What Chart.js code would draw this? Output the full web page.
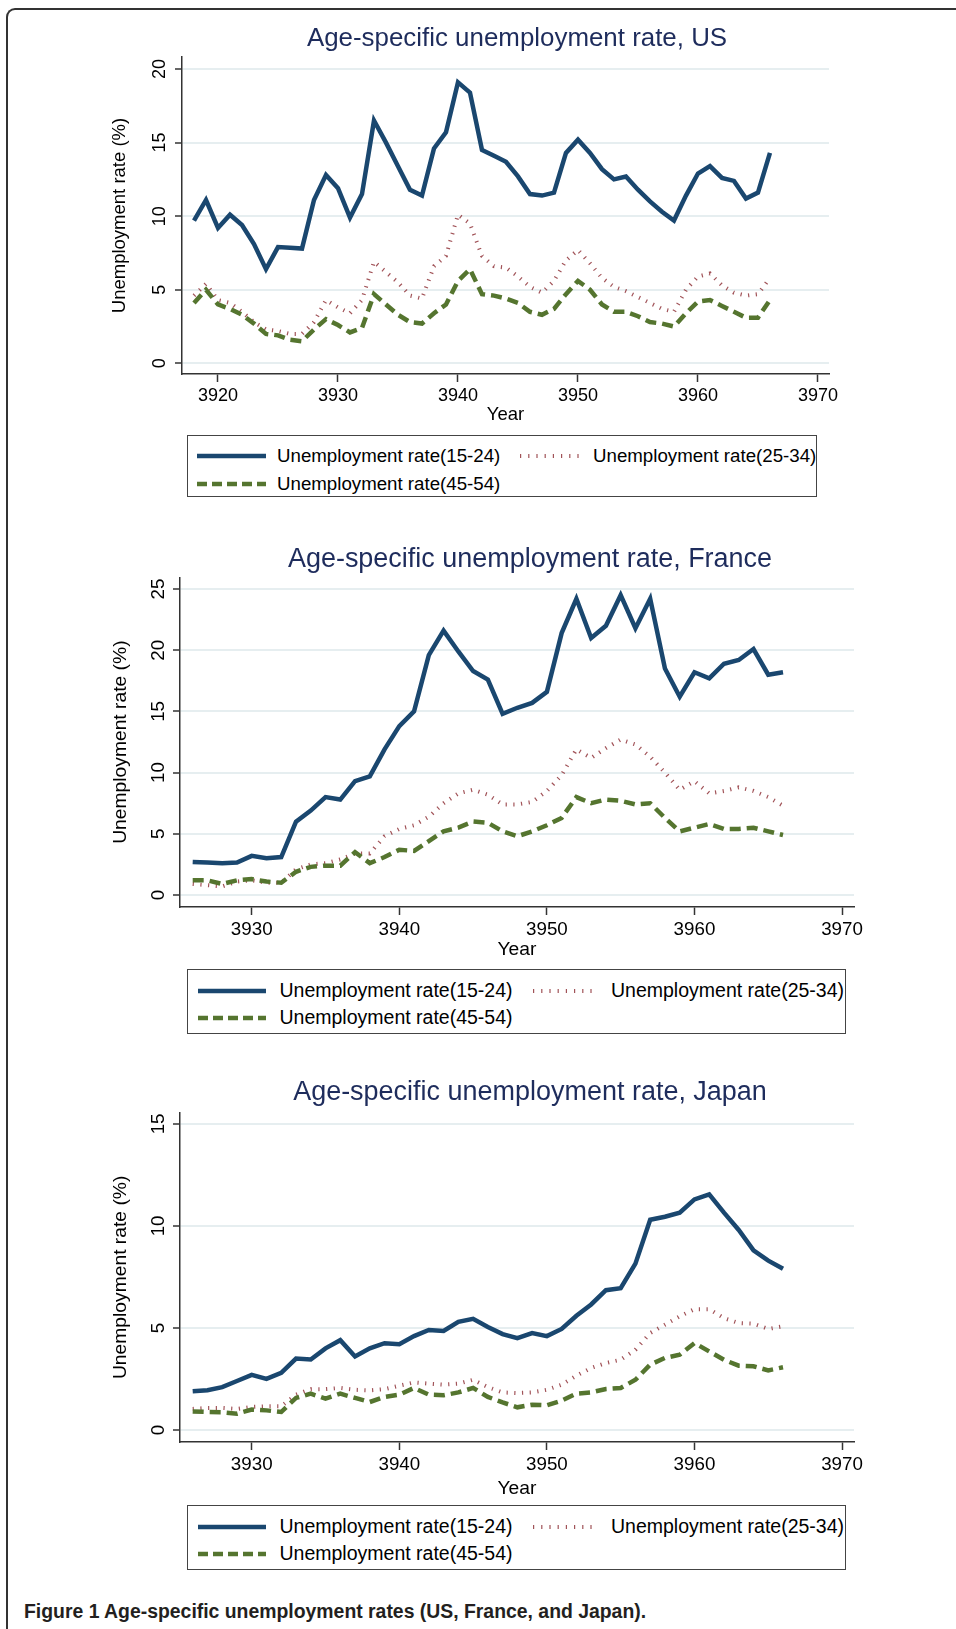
<!DOCTYPE html>
<html>
<head>
<meta charset="utf-8">
<script src="https://cdn.jsdelivr.net/npm/chart.js@4.4.1/dist/chart.umd.min.js"></script>
<style>
body { margin: 0; background: #fff; width: 956px; height: 1629px; overflow: hidden; position: relative;
       font-family: 'Liberation Sans', Arial, sans-serif; }
.frame { position: absolute; left: 6px; top: 8px; width: 1400px; height: 2000px;
         border-top: 2px solid #333; border-left: 2px solid #333; border-top-left-radius: 9px; }
canvas { position: absolute; }
.legend { position: absolute; border: 1.5px solid #444; box-sizing: border-box; }
.legend svg, .legend span { position: absolute; }
.legend span { white-space: nowrap; color: #000; line-height: 1.2; }
.caption { position: absolute; left: 24px; top: 1600px; font-size: 19.4px; font-weight: bold; color: #231f20; line-height: 22px; white-space: nowrap; }
</style>
</head>
<body>
<div class="frame"></div>
<canvas id="us"></canvas>
<canvas id="fr"></canvas>
<canvas id="jp"></canvas>
<div class="caption">Figure 1 Age-specific unemployment rates (US, France, and Japan).</div>
<script>
// series names (legend)
var SERIES_LABELS = ['Unemployment rate(15-24)', 'Unemployment rate(25-34)', 'Unemployment rate(45-54)'];

// US
var US_YEARS = [3918, 3919, 3920, 3921, 3922, 3923, 3924, 3925, 3926, 3927,
  3928, 3929, 3930, 3931, 3932, 3933, 3934, 3935, 3936, 3937,
  3938, 3939, 3940, 3941, 3942, 3943, 3944, 3945, 3946, 3947,
  3948, 3949, 3950, 3951, 3952, 3953, 3954, 3955, 3956, 3957,
  3958, 3959, 3960, 3961, 3962, 3963, 3964, 3965, 3966];
var US_15_24 = [9.7, 11.1, 9.2, 10.1, 9.4, 8.1, 6.4, 7.9, 7.85, 7.8,
  11.1, 12.8, 11.9, 9.9, 11.5, 16.5, 15.0, 13.4, 11.8, 11.4,
  14.6, 15.7, 19.1, 18.4, 14.5, 14.1, 13.7, 12.7, 11.5, 11.4,
  11.6, 14.3, 15.2, 14.3, 13.2, 12.5, 12.7, 11.8, 11.0, 10.3,
  9.7, 11.4, 12.9, 13.4, 12.6, 12.4, 11.2, 11.6, 14.3];
var US_25_34 = [4.6, 5.4, 4.3, 4.1, 3.5, 2.8, 2.3, 2.2, 2.0, 2.0,
  2.8, 4.3, 3.8, 3.4, 4.3, 6.9, 6.2, 5.5, 4.6, 4.4,
  6.6, 7.3, 10.1, 9.5, 7.3, 6.6, 6.5, 5.9, 5.2, 4.8,
  5.6, 7.0, 7.7, 6.8, 5.8, 5.2, 4.9, 4.5, 4.1, 3.7,
  3.5, 5.0, 5.9, 6.1, 5.3, 4.8, 4.6, 4.7, 5.8];
var US_45_54 = [4.1, 5.0, 4.0, 3.7, 3.3, 2.7, 2.0, 1.9, 1.6, 1.5,
  2.3, 3.0, 2.6, 2.1, 2.4, 4.7, 4.0, 3.3, 2.8, 2.7,
  3.4, 4.0, 5.6, 6.4, 4.7, 4.6, 4.4, 4.1, 3.5, 3.3,
  3.7, 4.7, 5.6, 5.0, 4.0, 3.5, 3.5, 3.2, 2.8, 2.7,
  2.5, 3.4, 4.2, 4.3, 3.9, 3.5, 3.1, 3.1, 4.3];

// France and Japan share the years
var FR_JP_YEARS = [3926, 3927, 3928, 3929, 3930, 3931, 3932, 3933, 3934, 3935,
  3936, 3937, 3938, 3939, 3940, 3941, 3942, 3943, 3944, 3945,
  3946, 3947, 3948, 3949, 3950, 3951, 3952, 3953, 3954, 3955,
  3956, 3957, 3958, 3959, 3960, 3961, 3962, 3963, 3964, 3965, 3966];
var FR_15_24 = [2.7, 2.65, 2.6, 2.65, 3.2, 3.0, 3.1, 6.0, 6.9, 8.0,
  7.8, 9.3, 9.7, 11.9, 13.8, 15.0, 19.6, 21.6, 19.9, 18.3,
  17.6, 14.8, 15.3, 15.7, 16.6, 21.4, 24.2, 21.0, 22.0, 24.5,
  21.8, 24.2, 18.5, 16.2, 18.2, 17.7, 18.9, 19.2, 20.1, 18.0, 18.2];
var FR_25_34 = [0.9, 0.8, 0.7, 1.1, 1.2, 1.0, 1.0, 2.1, 2.5, 2.6,
  2.9, 3.4, 3.4, 4.8, 5.4, 5.7, 6.4, 7.5, 8.3, 8.6,
  8.2, 7.4, 7.4, 7.6, 8.5, 9.8, 11.9, 11.2, 12.0, 12.7,
  12.3, 11.3, 10.0, 8.6, 9.3, 8.3, 8.5, 8.8, 8.5, 8.0, 7.3];
var FR_45_54 = [1.2, 1.2, 0.9, 1.2, 1.3, 1.1, 1.0, 1.9, 2.3, 2.4,
  2.4, 3.5, 2.6, 3.1, 3.7, 3.6, 4.4, 5.2, 5.5, 6.0,
  5.9, 5.2, 4.8, 5.2, 5.7, 6.3, 8.0, 7.5, 7.8, 7.7,
  7.4, 7.5, 6.3, 5.2, 5.5, 5.8, 5.4, 5.4, 5.5, 5.2, 4.9];

var JP_15_24 = [1.9, 1.95, 2.1, 2.4, 2.7, 2.5, 2.8, 3.5, 3.45, 4.0,
  4.4, 3.6, 4.0, 4.25, 4.2, 4.6, 4.9, 4.85, 5.3, 5.45,
  5.05, 4.7, 4.5, 4.75, 4.6, 4.95, 5.6, 6.15, 6.85, 6.95,
  8.15, 10.3, 10.45, 10.65, 11.3, 11.55, 10.65, 9.8, 8.8, 8.3, 7.9];
var JP_25_34 = [1.03, 1.08, 1.08, 1.03, 1.13, 1.16, 1.16, 1.73, 2.0, 2.0,
  2.06, 1.97, 1.94, 2.0, 2.17, 2.33, 2.27, 2.22, 2.27, 2.46,
  2.1, 1.84, 1.81, 1.84, 1.97, 2.22, 2.66, 3.04, 3.28, 3.44,
  3.93, 4.75, 5.16, 5.57, 5.92, 5.92, 5.48, 5.24, 5.21, 4.95, 5.08];
var JP_45_54 = [0.91, 0.88, 0.87, 0.8, 1.0, 0.96, 0.88, 1.57, 1.78, 1.53,
  1.78, 1.57, 1.37, 1.62, 1.73, 2.06, 1.73, 1.7, 1.84, 2.06,
  1.62, 1.35, 1.11, 1.24, 1.21, 1.44, 1.78, 1.84, 2.01, 2.06,
  2.46, 3.2, 3.53, 3.69, 4.26, 3.85, 3.44, 3.15, 3.12, 2.92, 3.07];

// tick labels
var US_X_TICKS = [3920, 3930, 3940, 3950, 3960, 3970];
var FR_JP_X_TICKS = [3930, 3940, 3950, 3960, 3970];
var US_Y_TICKS = [0, 5, 10, 15, 20];
var FR_Y_TICKS = [0, 5, 10, 15, 20, 25];
var JP_Y_TICKS = [0, 5, 10, 15];

var NAVY = '#1a476f';
var MAROON = 'rgba(144, 53, 59, 0.85)';
var GREEN = '#55752f';
var AXIS = '#333';
var GRIDC = '#e6eef0';
var TITLE_COLOUR = '#1e2c5c';
var FF = "'Liberation Sans', Arial, sans-serif";

function pts(years, vals) {
  return years.map((yr, i) => ({ x: yr, y: vals[i] }));
}

function make_chart(c) {
  var s = c.s;
  var cv = document.getElementById(c.id);
  cv.width = c.w;
  cv.height = c.h;
  cv.style.left = c.left + 'px';
  cv.style.top = c.top + 'px';
  return new Chart(cv.getContext('2d'), {
    type: 'line',
    data: {
      datasets: [
        { label: SERIES_LABELS[0], data: pts(c.years, c.a), borderColor: NAVY, borderWidth: 4.5, pointRadius: 0, order: 3 },
        { label: SERIES_LABELS[1], data: pts(c.years, c.b), borderColor: MAROON, borderWidth: 4, borderDash: [1.2, 6.5], pointRadius: 0, order: 2 },
        { label: SERIES_LABELS[2], data: pts(c.years, c.c), borderColor: GREEN, borderWidth: 4.5, borderDash: [11, 6], pointRadius: 0, order: 1 }
      ]
    },
    options: {
      responsive: false,
      animation: false,
      layout: { padding: 0 },
      plugins: {
        legend: { display: false },
        tooltip: { enabled: false },
        title: {
          display: true, text: c.title, color: TITLE_COLOUR,
          font: { family: FF, size: 25.9 * s, weight: 'normal', lineHeight: 1.2 },
          padding: { top: c.tPadTop, bottom: c.tPadBottom }
        }
      },
      scales: {
        x: {
          type: 'linear', min: c.xmin, max: c.xmax,
          afterBuildTicks: ax => { ax.ticks = c.xticks.map(v => ({ value: v })); },
          afterFit: ax => { ax.height = c.xh; },
          ticks: { callback: v => String(v), font: { family: FF, size: 18 * s }, color: '#000', padding: 3.5, maxRotation: 0, autoSkip: false },
          grid: { drawOnChartArea: false, tickLength: 8, tickColor: AXIS, tickWidth: 1.5 },
          border: { color: AXIS, width: 1.5 },
          title: { display: true, text: 'Year', color: '#000', font: { family: FF, size: 18.5 * s }, padding: 0 }
        },
        y: {
          type: 'linear', min: c.ymin, max: c.ymax,
          afterBuildTicks: ax => { ax.ticks = c.yticks.map(v => ({ value: v })); },
          afterFit: ax => { ax.width = c.yw; },
          ticks: { callback: v => String(v), font: { family: FF, size: 18 * s }, color: '#000', padding: c.yTickPad,
                   minRotation: 90, maxRotation: 90, crossAlign: 'center', autoSkip: false },
          grid: { color: GRIDC, lineWidth: 2, tickLength: 7, tickColor: AXIS, tickWidth: 1.5 },
          border: { color: AXIS, width: 1.5 },
          title: { display: true, text: 'Unemployment rate (%)', color: '#000', font: { family: FF, size: 18.5 * s }, padding: { top: c.yTitlePad, bottom: 0 } }
        },
        // empty right margin, kept as a box so the title centres on the whole canvas
        margin: {
          type: 'linear', position: 'right', display: true,
          afterFit: ax => { ax.width = c.padRight; },
          ticks: { display: false }, grid: { display: false }, border: { display: false }
        }
      }
    }
  });
}

//legend drawn as a boxed html block under each chart
function make_legend(g) {
  var box = document.createElement('div');
  box.className = 'legend';
  box.style.left = g.l + 'px'; box.style.top = g.t + 'px';
  box.style.width = g.w + 'px'; box.style.height = g.h + 'px';
  var styles = [
    { col: NAVY, w: 4.5, dash: '' },
    { col: MAROON, w: 4, dash: '1.2 7' },
    { col: GREEN, w: 4.5, dash: '10 5' }
  ];
  g.items.forEach((it, i) => {
    var cy = g.rows[it.row] - g.t;
    var st = styles[i];
    var svg = document.createElementNS('http://www.w3.org/2000/svg', 'svg');
    svg.setAttribute('width', it.sw); svg.setAttribute('height', 10);
    svg.style.left = (it.sx - g.l) + 'px'; svg.style.top = (cy - 5) + 'px';
    var ln = document.createElementNS('http://www.w3.org/2000/svg', 'line');
    ln.setAttribute('x1', 0); ln.setAttribute('x2', it.sw);
    ln.setAttribute('y1', 5); ln.setAttribute('y2', 5);
    ln.setAttribute('stroke', st.col); ln.setAttribute('stroke-width', st.w);
    if (st.dash) ln.setAttribute('stroke-dasharray', st.dash);
    svg.appendChild(ln);
    box.appendChild(svg);
    var sp = document.createElement('span');
    sp.textContent = SERIES_LABELS[i];
    sp.style.fontSize = g.font + 'px';
    sp.style.left = (it.tx - g.l) + 'px';
    sp.style.top = (cy - 0.6 * g.font) + 'px';
    box.appendChild(sp);
  });
  document.body.appendChild(box);
}

make_chart({ id: 'us', title: 'Age-specific unemployment rate, US', s: 1,
  left: 78, top: 0, w: 878, h: 426, padRight: 127,
  years: US_YEARS, a: US_15_24, b: US_25_34, c: US_45_54,
  xmin: 3917, xmax: 3970.92, ymin: -0.727, ymax: 20.82,
  xticks: US_X_TICKS, yticks: US_Y_TICKS,
  xh: 52, yw: 104, tPadTop: 23.45, tPadBottom: 2.45, yTitlePad: 30.9, yTickPad: 5 });

make_chart({ id: 'fr', title: 'Age-specific unemployment rate, France', s: 1.042,
  left: 104, top: 500, w: 852, h: 461, padRight: 102,
  years: FR_JP_YEARS, a: FR_15_24, b: FR_25_34, c: FR_45_54,
  xmin: 3925.14, xmax: 3970.81, ymin: -0.98, ymax: 25.96,
  xticks: FR_JP_X_TICKS, yticks: FR_Y_TICKS,
  xh: 54, yw: 76, tPadTop: 43.8, tPadBottom: 1.1, yTitlePad: 4.9, yTickPad: 3.5 });

make_chart({ id: 'jp', title: 'Age-specific unemployment rate, Japan', s: 1.042,
  left: 104, top: 1040, w: 852, h: 460, padRight: 102,
  years: FR_JP_YEARS, a: JP_15_24, b: JP_25_34, c: JP_45_54,
  xmin: 3925.14, xmax: 3970.81, ymin: -0.59, ymax: 15.55,
  xticks: FR_JP_X_TICKS, yticks: JP_Y_TICKS,
  xh: 58, yw: 76, tPadTop: 36.8, tPadBottom: 3.5, yTitlePad: 4.9, yTickPad: 3.5 });

make_legend({ l: 187, t: 435, w: 630, h: 62, rows: [455, 483], font: 18.7,
  items: [{ sx: 196, sw: 69, tx: 276, row: 0 }, { sx: 519, sw: 59, tx: 592, row: 0 }, { sx: 196, sw: 69, tx: 276, row: 1 }] });
make_legend({ l: 187, t: 969, w: 659, h: 65, rows: [990, 1017], font: 19.5,
  items: [{ sx: 197, sw: 68, tx: 278.5, row: 0 }, { sx: 532, sw: 63, tx: 610, row: 0 }, { sx: 197, sw: 68, tx: 278.5, row: 1 }] });
make_legend({ l: 187, t: 1505, w: 659, h: 65, rows: [1526, 1553], font: 19.5,
  items: [{ sx: 197, sw: 68, tx: 278.5, row: 0 }, { sx: 532, sw: 63, tx: 610, row: 0 }, { sx: 197, sw: 68, tx: 278.5, row: 1 }] });
</script>
</body>
</html>
